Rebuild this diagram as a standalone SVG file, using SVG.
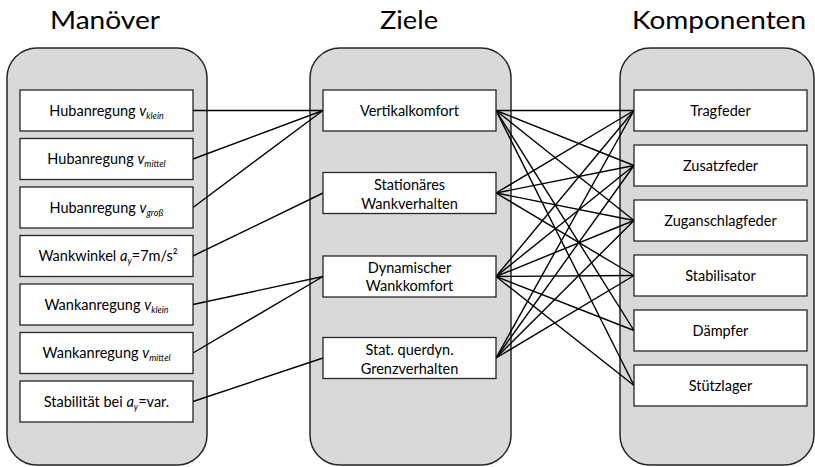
<svg xmlns="http://www.w3.org/2000/svg" width="815" height="467" viewBox="0 0 815 467">
<style>
.panel{fill:#d9d9d9;stroke:#262626;stroke-width:1.5}
.box{fill:#fff;stroke:#262626;stroke-width:1.3}
.title{font-family:Lato,"Open Sans",sans-serif;font-size:25px;fill:#000;text-anchor:middle}
.t{font-family:Lato,"Open Sans",sans-serif;font-size:14.5px;fill:#000;text-anchor:middle}
.i{font-style:italic}
.sub{font-style:italic;font-size:9px}
#connectors line{stroke:#000;stroke-width:1.4}
</style>
<rect width="815" height="467" fill="#fff"/>
<text class="title" x="105" y="29" textLength="110" lengthAdjust="spacingAndGlyphs">Manöver</text>
<text class="title" x="409" y="29" textLength="58" lengthAdjust="spacingAndGlyphs">Ziele</text>
<text class="title" x="719" y="29" textLength="174" lengthAdjust="spacingAndGlyphs">Komponenten</text>
<rect class="panel" x="7" y="48" width="200" height="417" rx="30"/>
<rect class="panel" x="310" y="48" width="201" height="417" rx="30"/>
<rect class="panel" x="620" y="48" width="194" height="417" rx="30"/>
<g id="connectors">
<line x1="193" y1="110.5" x2="323" y2="110.5"/>
<line x1="193" y1="159" x2="323" y2="110.5"/>
<line x1="193" y1="207.5" x2="323" y2="110.5"/>
<line x1="193" y1="256" x2="323" y2="193"/>
<line x1="193" y1="304.5" x2="323" y2="276.5"/>
<line x1="193" y1="353" x2="323" y2="276.5"/>
<line x1="193" y1="401.5" x2="323" y2="358"/>
<line x1="496" y1="110.5" x2="634" y2="110.5"/>
<line x1="496" y1="110.5" x2="634" y2="165.5"/>
<line x1="496" y1="110.5" x2="634" y2="220.5"/>
<line x1="496" y1="110.5" x2="634" y2="330.5"/>
<line x1="496" y1="110.5" x2="634" y2="385.5"/>
<line x1="496" y1="193" x2="634" y2="110.5"/>
<line x1="496" y1="193" x2="634" y2="165.5"/>
<line x1="496" y1="193" x2="634" y2="220.5"/>
<line x1="496" y1="193" x2="634" y2="275.5"/>
<line x1="496" y1="276.5" x2="634" y2="110.5"/>
<line x1="496" y1="276.5" x2="634" y2="165.5"/>
<line x1="496" y1="276.5" x2="634" y2="220.5"/>
<line x1="496" y1="276.5" x2="634" y2="275.5"/>
<line x1="496" y1="276.5" x2="634" y2="330.5"/>
<line x1="496" y1="276.5" x2="634" y2="385.5"/>
<line x1="496" y1="358" x2="634" y2="110.5"/>
<line x1="496" y1="358" x2="634" y2="165.5"/>
<line x1="496" y1="358" x2="634" y2="220.5"/>
<line x1="496" y1="358" x2="634" y2="275.5"/>
</g>
<g id="m1"><rect class="box" x="20" y="90" width="173" height="41"/><text class="t" x="106.5" y="116">Hubanregung <tspan class="i">v</tspan><tspan class="sub" dy="3">klein</tspan></text></g>
<g id="m2"><rect class="box" x="20" y="138.5" width="173" height="41"/><text class="t" x="106.5" y="164">Hubanregung <tspan class="i">v</tspan><tspan class="sub" dy="3">mittel</tspan></text></g>
<g id="m3"><rect class="box" x="20" y="187" width="173" height="41"/><text class="t" x="106.5" y="212.5">Hubanregung <tspan class="i">v</tspan><tspan class="sub" dy="3">groß</tspan></text></g>
<g id="m4"><rect class="box" x="20" y="235.5" width="173" height="41"/><text class="t" x="108" y="261">Wankwinkel <tspan class="i">a</tspan><tspan class="sub" dy="3">y</tspan><tspan dy="-3">=7m/s²</tspan></text></g>
<g id="m5"><rect class="box" x="20" y="284" width="173" height="41"/><text class="t" x="106.5" y="309.5">Wankanregung <tspan class="i">v</tspan><tspan class="sub" dy="3">klein</tspan></text></g>
<g id="m6"><rect class="box" x="20" y="332.5" width="173" height="41"/><text class="t" x="106.5" y="358">Wankanregung <tspan class="i">v</tspan><tspan class="sub" dy="3">mittel</tspan></text></g>
<g id="m7"><rect class="box" x="20" y="381" width="173" height="41"/><text class="t" x="106.5" y="406.5">Stabilität bei <tspan class="i">a</tspan><tspan class="sub" dy="3">y</tspan><tspan dy="-3">=var.</tspan></text></g>
<g id="z1"><rect class="box" x="323" y="90" width="173" height="41"/><text class="t" x="409.5" y="116">Vertikalkomfort</text></g>
<g id="z2"><rect class="box" x="323" y="172.5" width="173" height="41"/><text class="t" x="409.5" y="190">Stationäres</text><text class="t" x="409.5" y="209">Wankverhalten</text></g>
<g id="z3"><rect class="box" x="323" y="256" width="173" height="41"/><text class="t" x="409.5" y="272.5">Dynamischer</text><text class="t" x="409.5" y="291">Wankkomfort</text></g>
<g id="z4"><rect class="box" x="323" y="337.5" width="173" height="41"/><text class="t" x="409.5" y="355">Stat. querdyn.</text><text class="t" x="409.5" y="374">Grenzverhalten</text></g>
<g id="k1"><rect class="box" x="634" y="90" width="173" height="41"/><text class="t" x="720.5" y="116">Tragfeder</text></g>
<g id="k2"><rect class="box" x="634" y="145" width="173" height="41"/><text class="t" x="720.5" y="171">Zusatzfeder</text></g>
<g id="k3"><rect class="box" x="634" y="200" width="173" height="41"/><text class="t" x="720.5" y="226">Zuganschlagfeder</text></g>
<g id="k4"><rect class="box" x="634" y="255" width="173" height="41"/><text class="t" x="720.5" y="281">Stabilisator</text></g>
<g id="k5"><rect class="box" x="634" y="310" width="173" height="41"/><text class="t" x="720.5" y="336">Dämpfer</text></g>
<g id="k6"><rect class="box" x="634" y="365" width="173" height="41"/><text class="t" x="720.5" y="391">Stützlager</text></g>
</svg>
